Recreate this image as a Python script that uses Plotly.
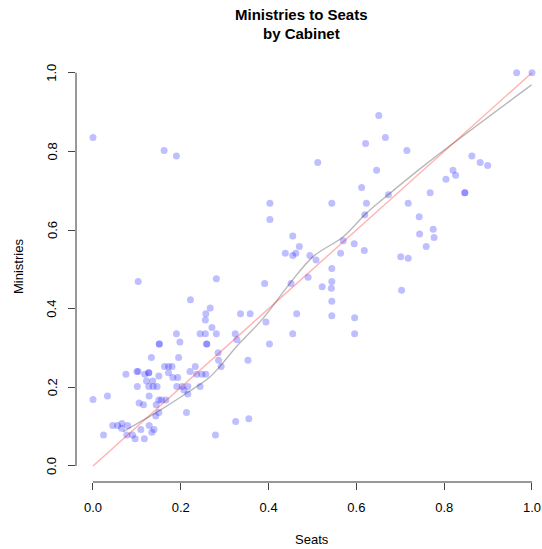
import plotly.graph_objects as go

seats = [0.965, 1.0, 0.0, 0.162, 0.19, 0.651, 0.621, 0.666, 0.715, 0.512,
         0.646, 0.863, 0.882, 0.899, 0.82, 0.826, 0.804, 0.612, 0.847, 0.847,
         0.768, 0.673, 0.403, 0.544, 0.623, 0.718, 0.619, 0.743, 0.403, 0.455,
         0.775, 0.744, 0.777, 0.57, 0.595, 0.47, 0.759, 0.618, 0.438, 0.462,
         0.455, 0.494, 0.564, 0.701, 0.718, 0.508, 0.544, 0.49, 0.544, 0.451,
         0.391, 0.522, 0.543, 0.703, 0.103, 0.281, 0.222, 0.544, 0.267, 0.257,
         0.336, 0.358, 0.464, 0.544, 0.596, 0.256, 0.271, 0.394, 0.19, 0.244,
         0.256, 0.281, 0.324, 0.455, 0.596, 0.198, 0.328, 0.402, 0.151, 0.151,
         0.259, 0.259, 0.133, 0.195, 0.285, 0.286, 0.353, 0.292, 0.163, 0.172,
         0.18, 0.233, 0.075, 0.1, 0.103, 0.127, 0.127, 0.118, 0.15, 0.172,
         0.221, 0.236, 0.248, 0.257, 0.182, 0.193, 0.122, 0.136, 0.101, 0.127,
         0.137, 0.146, 0.191, 0.203, 0.216, 0.244, 0.207, 0.216, 0.0, 0.033,
         0.128, 0.15, 0.156, 0.166, 0.105, 0.115, 0.144, 0.15, 0.213, 0.143,
         0.045, 0.056, 0.066, 0.079, 0.065, 0.128, 0.109, 0.139, 0.134, 0.077,
         0.09, 0.024, 0.096, 0.117, 0.279, 0.325, 0.355]
ministries = [1.0, 1.0, 0.835, 0.802, 0.788, 0.891, 0.82, 0.835, 0.802, 0.772,
              0.752, 0.788, 0.772, 0.764, 0.752, 0.739, 0.729, 0.708, 0.695, 0.695,
              0.695, 0.69, 0.668, 0.668, 0.668, 0.668, 0.639, 0.634, 0.627, 0.585,
              0.602, 0.59, 0.581, 0.573, 0.565, 0.558, 0.558, 0.548, 0.541, 0.541,
              0.535, 0.535, 0.541, 0.532, 0.528, 0.524, 0.502, 0.48, 0.469, 0.464,
              0.464, 0.456, 0.452, 0.447, 0.469, 0.476, 0.423, 0.419, 0.402, 0.387,
              0.387, 0.387, 0.387, 0.382, 0.377, 0.371, 0.352, 0.366, 0.336, 0.336,
              0.336, 0.336, 0.336, 0.336, 0.336, 0.315, 0.321, 0.31, 0.31, 0.31,
              0.31, 0.31, 0.276, 0.276, 0.288, 0.269, 0.269, 0.253, 0.253, 0.253,
              0.253, 0.253, 0.233, 0.24, 0.24, 0.237, 0.237, 0.233, 0.229, 0.237,
              0.24, 0.233, 0.233, 0.233, 0.225, 0.225, 0.216, 0.216, 0.202, 0.202,
              0.202, 0.202, 0.202, 0.202, 0.202, 0.202, 0.193, 0.183, 0.169, 0.178,
              0.178, 0.168, 0.168, 0.168, 0.16, 0.156, 0.156, 0.136, 0.136, 0.127,
              0.103, 0.103, 0.108, 0.103, 0.096, 0.103, 0.093, 0.093, 0.086, 0.079,
              0.079, 0.079, 0.069, 0.069, 0.079, 0.113, 0.12]

lowess_x = [0.068, 0.115, 0.153, 0.213, 0.263, 0.289, 0.327, 0.388, 0.449,
            0.502, 0.570, 0.623, 0.677, 0.752, 0.999]
lowess_y = [0.087, 0.117, 0.142, 0.185, 0.223, 0.253, 0.304, 0.376, 0.465,
            0.533, 0.583, 0.643, 0.694, 0.762, 0.969]

ref_x = [0.0, 1.0]
ref_y = [0.0, 1.0]

tick_vals = [0.0, 0.2, 0.4, 0.6, 0.8, 1.0]
tick_text = ["0.0", "0.2", "0.4", "0.6", "0.8", "1.0"]

FONT = "Liberation Sans, Arial, sans-serif"

fig = go.Figure()
fig.add_trace(go.Scatter(x=seats, y=ministries, mode="markers",
                         marker=dict(color="rgba(0,0,255,0.25)", size=7, line=dict(width=0)),
                         hoverinfo="skip"))
fig.add_trace(go.Scatter(x=lowess_x, y=lowess_y, mode="lines", line_shape="spline",
                         line=dict(color="rgba(0,0,0,0.28)", width=1.4), hoverinfo="skip"))
fig.add_trace(go.Scatter(x=ref_x, y=ref_y, mode="lines",
                         line=dict(color="rgba(255,0,0,0.3)", width=1.4), hoverinfo="skip"))

axis_common = dict(showgrid=False, zeroline=False, showline=False,
                   ticks="outside", ticklen=7, tickwidth=1, tickcolor="#444",
                   tickvals=tick_vals, ticktext=tick_text,
                   tickfont=dict(family=FONT, size=13, color="black"))

fig.update_xaxes(range=[-0.0387, 1.0228], ticklabelstandoff=6, **axis_common)
fig.update_yaxes(range=[-0.0407, 1.04], showticklabels=False, **axis_common)

annotations = [
    dict(text="<b>Ministries to Seats</b>", xref="paper", yref="paper",
         x=(301 - 76) / 466, y=(482 - 15) / 425, xanchor="center", yanchor="middle",
         showarrow=False, font=dict(family=FONT, size=15, color="black")),
    dict(text="<b>by Cabinet</b>", xref="paper", yref="paper",
         x=(301 - 76) / 466, y=(482 - 33) / 425, xanchor="center", yanchor="middle",
         showarrow=False, font=dict(family=FONT, size=15, color="black")),
    dict(text="Seats", xref="x", yref="paper", x=0.5, y=(482 - 539) / 425,
         xanchor="center", yanchor="middle", showarrow=False,
         font=dict(family=FONT, size=13, color="black")),
    dict(text="Ministries", xref="paper", yref="paper", x=(18 - 76) / 466,
         y=(482 - 267) / 425, xanchor="center", yanchor="middle", textangle=-90,
         showarrow=False, font=dict(family=FONT, size=13, color="black")),
]
for v, t in zip(tick_vals, tick_text):
    annotations.append(dict(text=t, xref="paper", yref="y", x=(52 - 76) / 466, y=v,
                            xanchor="center", yanchor="middle", textangle=-90,
                            showarrow=False, font=dict(family=FONT, size=13, color="black")))

fig.update_layout(
    width=542, height=549,
    margin=dict(l=76, r=0, t=57, b=67),
    plot_bgcolor="white", paper_bgcolor="white",
    showlegend=False,
    shapes=[
        dict(type="line", xref="x", yref="paper", x0=0, x1=1, y0=0, y1=0,
             line=dict(color="#333", width=1)),
        dict(type="line", xref="paper", yref="y", x0=0, x1=0, y0=0, y1=1,
             line=dict(color="#333", width=1)),
    ],
    annotations=annotations,
)

fig.write_html("out.html", config={"displayModeBar": False},
               post_script="document.body.style.margin='0';")
